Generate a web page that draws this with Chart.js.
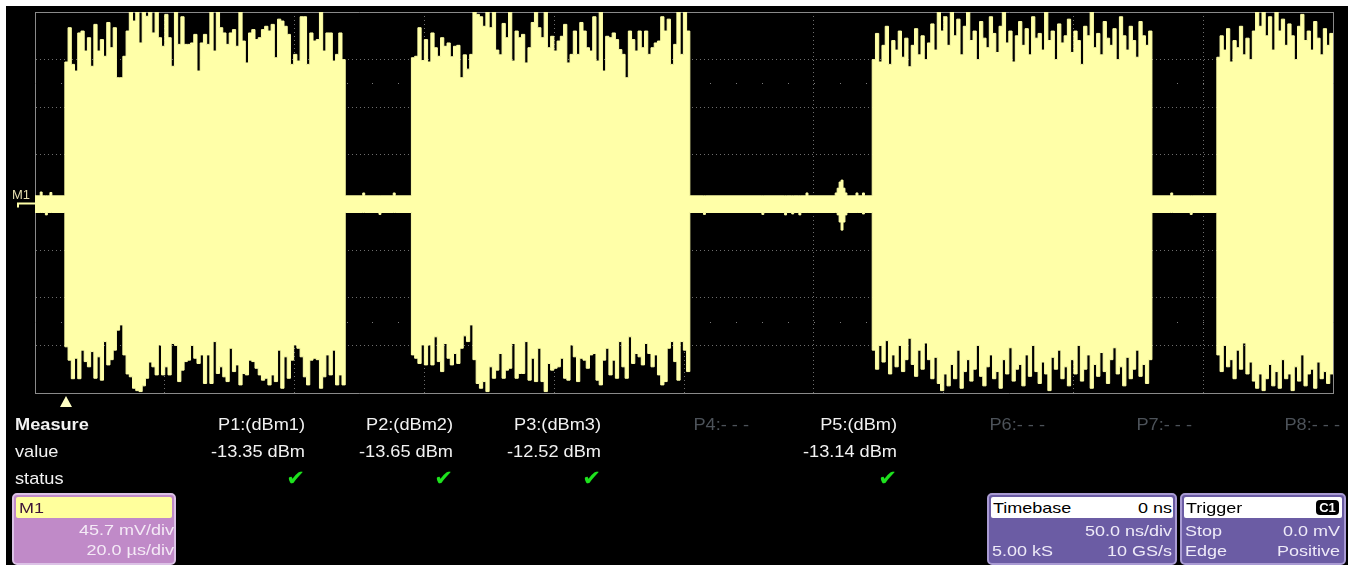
<!DOCTYPE html>
<html>
<head>
<meta charset="utf-8">
<title>M1 burst capture</title>
<script src="https://cdn.jsdelivr.net/npm/chart.js@4.4.1/dist/chart.umd.min.js"></script>
<style>
  html, body { margin: 0; padding: 0; background: #000; }
  #scope { position: relative; width: 1348px; height: 565px; overflow: hidden; background: #000;
           font-family: "Liberation Sans", Arial, sans-serif; }
  #scope canvas { position: absolute; left: 0; top: 0; }
  .edge { position: absolute; background: #fff; }
  .t { position: absolute; white-space: nowrap; line-height: 20px; height: 20px; color: #f2f2f2; font-size: 17px; }
  .t.r { text-align: right; transform-origin: right center; transform: scaleX(1.07); }
  .t.l { transform-origin: left center; transform: scaleX(1.07); }
  .t.b { font-weight: bold; }
  .t.off { color: #4c5259; }
  .t.ok { color: #1ee21e; font-size: 21px; font-family: "DejaVu Sans", sans-serif;
          text-shadow: 0 0 1px #063806; }
  .box { position: absolute; box-sizing: border-box; border-radius: 5px; }
  .hdr { position: absolute; box-sizing: border-box; border-radius: 2px; }
  .s { position: absolute; white-space: nowrap; font-size: 15px; line-height: 18px; height: 18px; }
  .s.r { text-align: right; transform-origin: right center; transform: scaleX(1.2); }
  .s.l { transform-origin: left center; transform: scaleX(1.2); }
  .badge { position: absolute; background: #000; color: #fff; border-radius: 4px; font-size: 13px;
           font-weight: bold; line-height: 15px; text-align: center; }
</style>
</head>
<body>
<div id="scope">
  <canvas id="trace" width="1348" height="565"></canvas>
  <div class="edge" style="left:0;top:0;width:1348px;height:6px"></div>
  <div class="edge" style="left:0;top:0;width:6px;height:565px"></div>
</div>
<script>
// Time axis: 10 divisions of 20 µs; vertical: 8 divisions of 45.7 mV
const timeRange = [0, 200];
const voltRange = [-4, 4];

// RF bursts: start / end time (µs)
const burstStart = [4.6, 58.0, 129.0, 182.1];
const burstEnd = [47.8, 100.9, 172.1, 200.0];

// Peak envelope (divisions) sampled across each burst
const burst1Upper = [2.95,3.67,2.9,2.76,3.56,3.6,3.18,3.46,2.86,3.74,
  3.18,3.42,3.07,3.78,3.25,3.67,2.62,2.62,3.07,3.6,
  4.0,3.81,4.0,3.35,4.0,3.91,4.0,3.56,4.0,3.46,
  3.28,3.95,3.46,2.86,4.0,3.32,3.9,3.32,3.32,3.35,
  3.53,2.76,3.35,3.53,3.32,4.0,3.18,4.0,3.67,3.56,
  3.32,3.56,3.63,3.28,4.0,3.39,2.93,3.56,3.63,3.42,
  3.46,3.63,3.7,3.6,3.74,3.04,3.85,3.81,3.7,3.53,
  2.9,3.11,2.97,3.9,3.9,2.9,3.56,3.39,3.42,4.0,
  3.18,3.56,3.56,2.97,3.11,3.56,3.0];
const burst1Lower = [-3.03,-3.31,-3.7,-3.27,-3.7,-3.1,-3.34,-3.45,-3.13,-3.69,
  -3.24,-3.73,-2.92,-3.41,-3.3,-3.1,-2.68,-2.57,-3.2,-3.6,
  -3.66,-3.9,-3.95,-3.97,-3.85,-3.69,-3.35,-3.45,-3.62,-2.99,
  -3.62,-3.45,-3.62,-2.96,-3.0,-3.76,-3.52,-3.34,-3.31,-3.0,
  -3.27,-3.38,-3.2,-3.8,-3.2,-3.8,-2.92,-3.59,-3.45,-3.66,
  -3.76,-3.06,-3.55,-3.41,-3.83,-3.59,-3.62,-3.31,-3.34,-3.48,
  -3.62,-3.73,-3.69,-3.83,-3.62,-3.76,-3.1,-3.9,-3.24,-3.69,
  -3.31,-2.99,-3.06,-3.24,-3.66,-3.83,-3.31,-3.27,-3.3,-3.9,
  -3.66,-3.2,-3.62,-3.1,-3.83,-3.62,-3.83];

const burst2Upper = [3.04,3.07,3.67,2.98,3.42,2.95,3.56,3.25,3.07,3.46,
  3.28,3.35,3.06,3.28,3.3,2.62,3.1,2.8,3.11,4.0,
  3.95,3.9,3.7,4.0,3.67,4.0,3.2,3.1,3.76,3.46,
  4.0,2.97,3.6,3.46,3.53,2.93,3.25,3.78,4.0,3.67,
  3.46,4.0,3.25,3.49,3.18,3.39,3.49,3.74,2.93,3.11,
  3.6,3.11,3.78,3.6,3.25,3.18,3.9,2.97,4.0,2.76,
  3.49,3.46,3.56,3.42,3.21,3.11,2.62,3.6,3.42,3.18,
  3.6,3.25,3.6,3.11,3.25,3.35,3.39,3.9,3.6,3.85,
  2.9,3.32,4.0,3.11,4.0,3.6];
const burst2Lower = [-3.2,-3.27,-3.38,-2.99,-3.41,-2.99,-3.41,-2.82,-3.34,-3.55,
  -2.96,-3.27,-3.41,-3.17,-3.38,-3.06,-2.8,-2.92,-2.57,-3.3,
  -3.8,-3.9,-3.76,-3.97,-3.45,-3.69,-3.52,-3.17,-3.69,-3.52,
  -3.48,-2.96,-3.69,-3.59,-3.59,-2.92,-3.73,-3.27,-3.76,-3.06,
  -3.76,-3.97,-3.38,-3.52,-3.48,-3.45,-3.27,-3.69,-3.73,-2.99,
  -3.24,-3.76,-3.27,-3.31,-3.48,-3.2,-3.17,-3.73,-3.83,-3.31,
  -3.06,-3.62,-3.31,-3.69,-2.92,-3.45,-3.69,-2.82,-3.38,-3.17,
  -3.24,-3.41,-2.96,-3.17,-3.45,-3.2,-3.62,-3.83,-3.76,-3.06,
  -2.92,-3.34,-3.73,-2.92,-3.1,-3.55];

const burst3Upper = [3.0,3.55,2.95,3.3,3.7,2.9,3.4,3.2,3.6,3.05,
  3.45,2.85,3.3,3.65,3.1,3.5,3.0,3.35,3.75,3.2,
  4.0,3.6,3.9,3.3,4.0,3.5,3.85,3.1,3.7,4.0,
  3.4,3.6,3.0,3.8,3.45,3.25,3.9,3.55,3.15,3.7,
  4.0,3.35,3.6,2.95,3.5,3.8,3.3,3.65,3.1,3.9,
  3.45,3.55,3.2,4.0,3.4,3.6,3.0,3.75,3.35,3.5,
  3.85,3.15,3.6,3.4,2.9,3.7,3.5,4.0,3.25,3.55,
  3.1,3.8,3.45,3.3,3.65,3.0,3.9,3.5,3.2,3.7,
  3.4,3.05,3.8,3.5,3.3,3.6];
const burst3Lower = [-3.1,-3.5,-3.0,-3.35,-2.9,-3.6,-3.2,-3.45,-3.0,-3.55,
  -3.3,-2.85,-3.4,-3.65,-3.1,-3.5,-2.95,-3.3,-3.7,-3.25,
  -3.8,-3.95,-3.6,-3.85,-3.4,-3.7,-3.1,-3.9,-3.55,-3.3,
  -3.75,-3.5,-3.0,-3.65,-3.85,-3.45,-3.2,-3.7,-3.55,-3.9,
  -3.3,-3.6,-3.05,-3.75,-3.5,-3.4,-3.85,-3.2,-3.65,-3.0,
  -3.55,-3.8,-3.35,-3.6,-3.95,-3.25,-3.5,-3.1,-3.7,-3.45,
  -3.85,-3.3,-3.6,-3.0,-3.75,-3.5,-3.2,-3.9,-3.4,-3.65,
  -3.15,-3.55,-3.8,-3.3,-3.05,-3.6,-3.45,-3.85,-3.25,-3.7,
  -3.5,-3.1,-3.65,-3.4,-3.8,-3.3];

const burst4Upper = [3.05,3.5,3.2,3.65,2.95,3.4,3.25,3.7,3.1,3.45,
  3.0,3.6,4.0,3.7,4.0,3.5,3.9,3.2,4.0,3.6,
  3.85,3.3,3.75,3.5,3.0,3.7,3.95,3.4,3.6,3.2,
  3.8,3.45,3.1,3.65,3.3,3.55];
const burst4Lower = [-3.2,-3.55,-3.0,-3.45,-3.3,-3.7,-3.1,-3.5,-2.95,-3.6,
  -3.35,-3.75,-3.9,-3.6,-3.95,-3.7,-3.4,-3.85,-3.55,-3.9,
  -3.3,-3.7,-3.6,-3.95,-3.45,-3.75,-3.2,-3.85,-3.6,-3.5,
  -3.9,-3.35,-3.7,-3.55,-3.8,-3.6];

// Carrier-off residue between bursts
const quietUpper = 0.14;
const quietLower = -0.21;
const glitchTime  = [0.8, 1.6, 2.3, 50.5, 53.0, 55.2, 103.0, 112.0, 115.5, 116.6, 117.7, 118.8,
                     123.3, 123.6, 123.9, 124.2, 124.5, 124.8, 125.1, 126.5, 127.5, 175.0, 178.0];
const glitchUpper = [0.22, 0.14, 0.21, 0.2, 0.14, 0.2, 0.14, 0.14, 0.14, 0.14, 0.14, 0.2,
                     0.2, 0.3, 0.43, 0.47, 0.3, 0.2, 0.14, 0.2, 0.2, 0.2, 0.14];
const glitchLower = [-0.21, -0.26, -0.21, -0.21, -0.25, -0.21, -0.25, -0.25, -0.26, -0.24, -0.26, -0.21,
                     -0.21, -0.26, -0.41, -0.58, -0.41, -0.26, -0.21, -0.21, -0.24, -0.21, -0.25];
const GLITCH_US = 0.3;

// Measurement table
const measureNames  = ['P1:(dBm1)', 'P2:(dBm2)', 'P3:(dBm3)', 'P4:- - -', 'P5:(dBm)', 'P6:- - -', 'P7:- - -', 'P8:- - -'];
const measureValues = ['-13.35 dBm', '-13.65 dBm', '-12.52 dBm', '', '-13.14 dBm', '', '', ''];
const measureActive = [true, true, true, false, true, false, false, false];

// Builds a step trace: each point holds its level until the next one
function buildTrace(burstVals, quietLevel, glitchVals) {
  const pts = [];
  const quietSpans = [];
  let cursor = timeRange[0];
  burstStart.forEach((s, b) => { quietSpans.push([cursor, s]); cursor = burstEnd[b]; });
  quietSpans.push([cursor, timeRange[1]]);
  quietSpans.forEach(([a, z]) => {
    if (z <= a) return;
    pts.push({ x: a, y: quietLevel });
    glitchTime.forEach((t, g) => {
      if (t >= a && t < z) {
        pts.push({ x: t, y: glitchVals[g] });
        pts.push({ x: Math.min(t + GLITCH_US, z), y: quietLevel });
      }
    });
  });
  burstVals.forEach((vals, b) => {
    const step = (burstEnd[b] - burstStart[b]) / vals.length;
    vals.forEach((v, i) => pts.push({ x: burstStart[b] + i * step, y: v }));
  });
  pts.sort((p, q) => p.x - q.x);
  pts.push({ x: timeRange[1], y: pts[pts.length - 1].y });
  return pts;
}

const upperTrace = buildTrace([burst1Upper, burst2Upper, burst3Upper, burst4Upper], quietUpper, glitchUpper);
const lowerTrace = buildTrace([burst1Lower, burst2Lower, burst3Lower, burst4Lower], quietLower, glitchLower);

const TRACE = '#ffffa8';
const GRID = '#6e6e6e';
const FRAME = '#8a8a8a';

// Half-division marker dots across the graticule
const dotRows = [-2.5, 2.5];
const graticuleDots = {
  id: 'graticuleDots',
  beforeDatasetsDraw(chart) {
    const { ctx, scales: { x, y } } = chart;
    ctx.save();
    ctx.fillStyle = '#7c7c7c';
    dotRows.forEach(v => {
      const py = Math.round(y.getPixelForValue(v));
      for (let t = timeRange[0]; t <= timeRange[1]; t += 4) {
        ctx.fillRect(Math.round(x.getPixelForValue(t)), py, 1, 1);
      }
    });
    ctx.restore();
  }
};

// Ground reference marker, trace label and trigger arrow
const scopeMarks = {
  id: 'scopeMarks',
  afterDraw(chart) {
    const { ctx, scales: { x, y } } = chart;
    const gy = Math.round(y.getPixelForValue(0)) + 0.5;
    const left = chart.chartArea.left;
    ctx.save();
    ctx.strokeStyle = TRACE;
    ctx.lineWidth = 2;
    ctx.beginPath();
    ctx.moveTo(18, gy + 4);
    ctx.lineTo(18, gy);
    ctx.lineTo(left, gy);
    ctx.stroke();
    ctx.fillStyle = '#e6dfb0';
    ctx.font = '13px "Liberation Sans", Arial, sans-serif';
    ctx.textBaseline = 'alphabetic';
    ctx.fillText('M1', 12, gy - 5);
    const tx = Math.round(x.getPixelForValue(burstStart[0])) + 1;
    const ty = chart.chartArea.bottom + 3;
    ctx.fillStyle = '#ffffc4';
    ctx.beginPath();
    ctx.moveTo(tx, ty);
    ctx.lineTo(tx + 6, ty + 11);
    ctx.lineTo(tx - 6, ty + 11);
    ctx.closePath();
    ctx.fill();
    ctx.restore();
  }
};

// Upper half fills down past the centre and lower half up past it, so the two overlap
function traceSet(data, fillTo) {
  return {
    data, stepped: true, fill: { value: fillTo }, borderColor: TRACE, backgroundColor: TRACE,
    borderWidth: 1, pointRadius: 0, tension: 0
  };
}

new Chart(document.getElementById('trace'), {
  type: 'line',
  data: { datasets: [traceSet(upperTrace, -0.1), traceSet(lowerTrace, 0.1)] },
  options: {
    animation: false, responsive: false, devicePixelRatio: 1, events: [], normalized: true,
    layout: { padding: { left: 35, top: 12, right: 15, bottom: 172 } },
    plugins: { legend: { display: false }, tooltip: { enabled: false } },
    scales: {
      x: { type: 'linear', position: 'bottom', min: timeRange[0], max: timeRange[1],
           ticks: { display: false, stepSize: 20 },
           grid: { color: GRID, drawTicks: false, lineWidth: 1 },
           border: { display: true, color: FRAME, dash: [1, 3] } },
      y: { type: 'linear', position: 'left', min: voltRange[0], max: voltRange[1],
           ticks: { display: false, stepSize: 1 },
           grid: { color: GRID, drawTicks: false, lineWidth: 1 },
           border: { display: true, color: FRAME, dash: [1, 3] } },
      xTop: { type: 'linear', position: 'top', min: timeRange[0], max: timeRange[1],
              ticks: { display: false }, grid: { display: false, drawTicks: false },
              border: { display: true, color: FRAME } },
      yRight: { type: 'linear', position: 'right', min: voltRange[0], max: voltRange[1],
                ticks: { display: false }, grid: { display: false, drawTicks: false },
                border: { display: true, color: FRAME } }
    }
  },
  plugins: [graticuleDots, scopeMarks]
});

// Measurement panel
const scope = document.getElementById('scope');
function addText(cls, text, left, top, width, style) {
  const d = document.createElement('div');
  d.className = cls;
  d.textContent = text;
  d.style.left = left + 'px';
  d.style.top = top + 'px';
  if (width) d.style.width = width + 'px';
  if (style) Object.assign(d.style, style);
  scope.appendChild(d);
  return d;
}
addText('t l b', 'Measure', 15, 415);
addText('t l', 'value', 15, 442);
addText('t l', 'status', 15, 469);
measureNames.forEach((name, i) => {
  const right = 305 + i * 147.9;
  addText('t r' + (measureActive[i] ? '' : ' off'), name, right - 160, 415, 160);
  if (measureValues[i]) addText('t r', measureValues[i], right - 160, 442, 160);
  if (measureActive[i]) addText('t r ok', '\u2714', right - 160, 468, 160);
});

// Channel and acquisition descriptor boxes
function addBox(left, top, width, height, fill, edge, hdrFill) {
  const b = document.createElement('div');
  b.className = 'box';
  Object.assign(b.style, { left: left + 'px', top: top + 'px', width: width + 'px', height: height + 'px',
    background: fill, border: '2px solid ' + edge });
  scope.appendChild(b);
  const h = document.createElement('div');
  h.className = 'hdr';
  Object.assign(h.style, { left: (left + 4) + 'px', top: (top + 4) + 'px', width: (width - 8) + 'px', height: '21px',
    background: hdrFill });
  scope.appendChild(h);
}
addBox(12, 493, 164, 72, '#c08ac8', '#dcc2e6', '#ffff9c');
addText('s l', 'M1', 19, 499, 0, { color: '#3c1238', width: 'auto' });
addText('s r', '45.7 mV/div', 24, 521, 150, { color: '#f4eaf6' });
addText('s r', '20.0 \u00b5s/div', 24, 541, 150, { color: '#f4eaf6' });

addBox(987, 493, 190, 72, '#6b5ca4', '#a99bd3', '#ffffff');
addText('s l', 'Timebase', 993, 499, 0, { color: '#000', width: 'auto' });
addText('s r', '0 ns', 1040, 499, 132, { color: '#000' });
addText('s r', '50.0 ns/div', 1040, 522, 132, { color: '#eeeaf8' });
addText('s l', '5.00 kS', 992, 542, 0, { color: '#eeeaf8', width: 'auto' });
addText('s r', '10 GS/s', 1040, 542, 132, { color: '#eeeaf8' });

addBox(1180, 493, 166, 72, '#6b5ca4', '#a99bd3', '#ffffff');
addText('s l', 'Trigger', 1186, 499, 0, { color: '#000', width: 'auto' });
const badge = document.createElement('div');
badge.className = 'badge';
badge.textContent = 'C1';
Object.assign(badge.style, { left: '1316px', top: '500px', width: '23px', height: '15px' });
scope.appendChild(badge);
addText('s l', 'Stop', 1185, 522, 0, { color: '#eeeaf8', width: 'auto' });
addText('s r', '0.0 mV', 1200, 522, 140, { color: '#eeeaf8' });
addText('s l', 'Edge', 1185, 542, 0, { color: '#eeeaf8', width: 'auto' });
addText('s r', 'Positive', 1200, 542, 140, { color: '#eeeaf8' });
</script>
</body>
</html>
